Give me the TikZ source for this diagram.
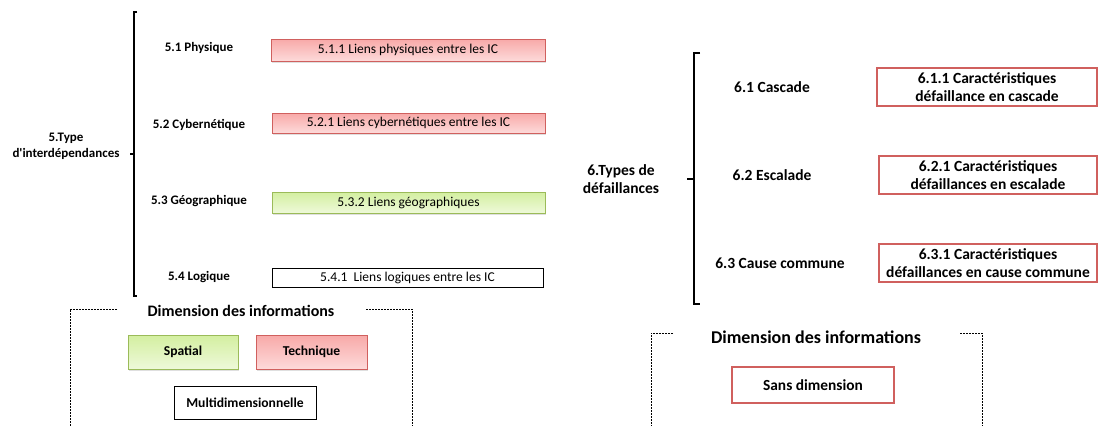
\documentclass[tikz,border=0pt]{standalone}
\usepackage{fontspec}
\setmainfont{Carlito}
\usetikzlibrary{shadows}
\definecolor{redline}{HTML}{D0605E}
\definecolor{redtop}{HTML}{F8A9A8}
\definecolor{redbot}{HTML}{FDDADA}
\definecolor{greenline}{HTML}{9BBB59}
\definecolor{greentop}{HTML}{D3EFA0}
\definecolor{greenbot}{HTML}{EEF9D9}
\begin{document}
\begin{tikzpicture}[x=1pt,y=-1pt,inner sep=0pt,
  lab/.style={font=\bfseries\fontsize{13}{16}\selectfont,align=center},
  labr/.style={font=\bfseries\fontsize{15.5}{18}\selectfont,align=center},
  btxt/.style={font=\fontsize{13.5}{16}\selectfont},
  redbox/.style={draw=redline,line width=1pt,top color=redtop,bottom color=redbot,
    drop shadow={shadow xshift=1pt,shadow yshift=-1.5pt,opacity=.25}},
  greenbox/.style={draw=greenline,line width=1pt,top color=greentop,bottom color=greenbot,
    drop shadow={shadow xshift=1pt,shadow yshift=-1.5pt,opacity=.25}},
  plainbox/.style={draw=black,line width=1pt,fill=white},
  failbox/.style={draw=redline,line width=1.3pt,fill=white},
  brace/.style={line width=2pt},
  dimline/.style={dashed,line width=.8pt,dash pattern=on 2pt off 1pt}]
\useasboundingbox (0,0) rectangle (1099,426);
% left part
\node[lab] (t5) at (66,146) {5.Type\\d\textquotesingle interdépendances};
\node[lab] (p51) at (199,48) {5.1 Physique};
\node[lab] (p52) at (199,125) {5.2 Cybernétique};
\node[lab] (p53) at (199,201) {5.3 Géographique};
\node[lab] (p54) at (199,277) {5.4 Logique};
\node[redbox,btxt,minimum width=274,minimum height=22] (b511) at (408,50) {5.1.1 Liens physiques entre les IC};
\node[redbox,btxt,minimum width=273,minimum height=20] (b521) at (408.5,123) {5.2.1 Liens cybernétiques entre les IC};
\node[greenbox,btxt,minimum width=273,minimum height=21] (b532) at (408.5,202.5) {5.3.2 Liens géographiques};
\node[plainbox,btxt,minimum width=271,minimum height=19] (b541) at (407.5,277.5) {5.4.1~ Liens logiques entre les IC};
\coordinate (lt) at (134,12);
\coordinate (lb) at (134,296);
\draw[brace] ([xshift=3]lt) -- (lt) -- (lb) -- ([xshift=3]lb);
\draw[brace] (134,154) -- (130,154);
% left dimension box
\node[lab,font=\bfseries\fontsize{16}{19}\selectfont] (dimL) at (241,311) {Dimension des informations};
\draw[dimline] (117,309) -- (70,309) -- (70,426);
\draw[dimline] (366,309) -- (412,309) -- (412,426);
\node[greenbox,lab,font=\bfseries\fontsize{13.6}{16}\selectfont,minimum width=110,minimum height=34] (spat) at (183,352) {Spatial};
\node[redbox,lab,font=\bfseries\fontsize{13.6}{16}\selectfont,minimum width=111,minimum height=34] (tech) at (311.5,352) {Technique};
\node[plainbox,lab,font=\bfseries\fontsize{13.6}{16}\selectfont,minimum width=142,minimum height=33] (multi) at (245,402.5) {Multidimensionnelle};
% right part
\node[labr] (t6) at (621,179) {6.Types de\\défaillances};
\node[labr] (p61) at (772,87) {6.1 Cascade};
\node[labr] (p62) at (772,175) {6.2 Escalade};
\node[labr] (p63) at (780,263) {6.3 Cause commune};
\node[failbox,labr,minimum width=220,minimum height=38] (b611) at (987,87) {6.1.1 Caractéristiques\\défaillance en cascade};
\node[failbox,labr,minimum width=218,minimum height=38] (b621) at (988,175) {6.2.1 Caractéristiques\\défaillances en escalade};
\node[failbox,labr,minimum width=218,minimum height=38] (b631) at (988,263) {6.3.1 Caractéristiques\\défaillances en cause commune};
\coordinate (rt) at (694,53);
\coordinate (rb) at (694,304);
\draw[brace] ([xshift=6]rt) -- (rt) -- (rb) -- ([xshift=6]rb);
\draw[brace] (694,179) -- (687,179);
% right dimension box
\node[lab,font=\bfseries\fontsize{18}{21}\selectfont] (dimR) at (816,337) {Dimension des informations};
\draw[dimline] (673,333) -- (651,333) -- (651,426);
\draw[dimline] (960,333) -- (982,333) -- (982,426);
\node[failbox,labr,font=\bfseries\fontsize{15.4}{18}\selectfont,minimum width=162,minimum height=36] (sans) at (813,385) {Sans dimension};
\end{tikzpicture}
\end{document}
